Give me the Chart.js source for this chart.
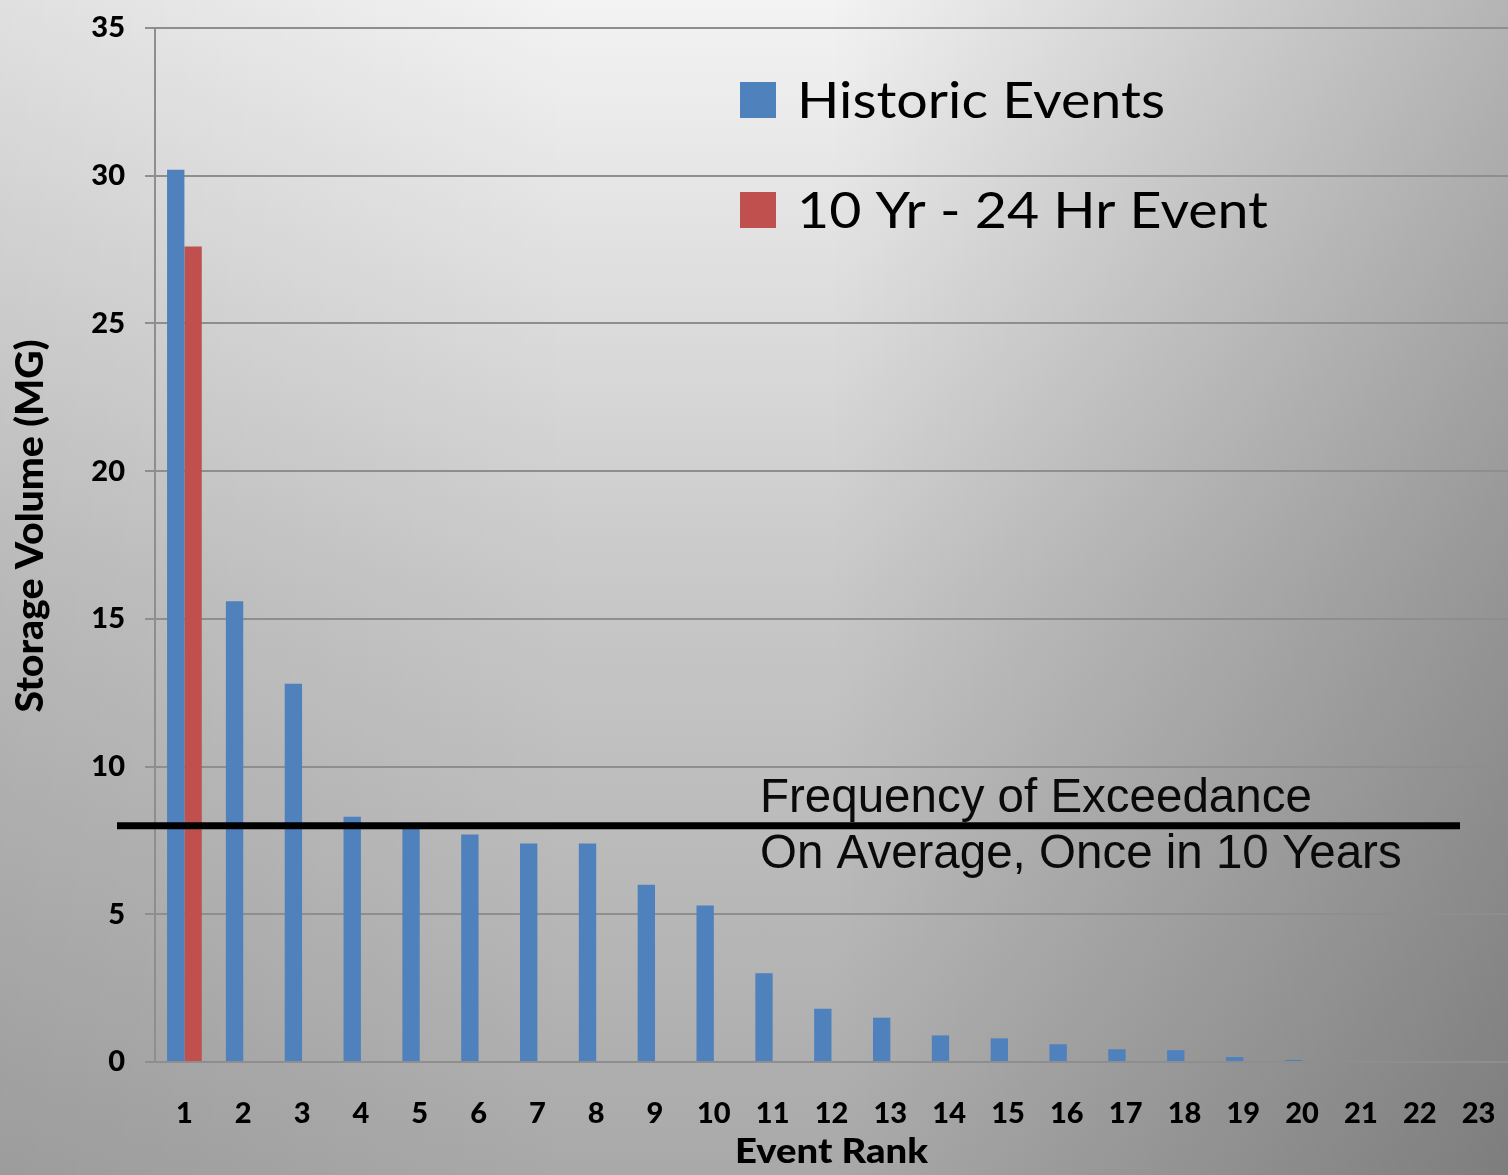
<!DOCTYPE html>
<html>
<head>
<meta charset="utf-8">
<title>Storage Volume by Event Rank</title>
<script src="https://cdn.jsdelivr.net/npm/chart.js@4.4.1/dist/chart.umd.min.js"></script>
<style>
  html, body { margin: 0; padding: 0; }
  body {
    width: 1508px;
    height: 1175px;
    overflow: hidden;
    background:
      linear-gradient(to right, rgba(0,0,0,0.08) 0%, rgba(0,0,0,0) 38%, rgba(0,0,0,0) 55%, rgba(0,0,0,0.26) 100%),
      linear-gradient(to bottom, #f3f3f3 0%, #c8c8c8 50%, #a9a9a9 100%);
  }
  canvas { display: block; }
</style>
</head>
<body>
<canvas id="chart" width="1508" height="1175"></canvas>
<script>
// data
const ranks = ['1', '2', '3', '4', '5', '6', '7', '8', '9', '10', '11', '12',
               '13', '14', '15', '16', '17', '18', '19', '20', '21', '22', '23'];
const historicEvents = [30.2, 15.6, 12.8, 8.3, 7.9, 7.7, 7.4, 7.4, 6.0, 5.3, 3.0, 1.8,
                        1.5, 0.9, 0.8, 0.6, 0.43, 0.4, 0.17, 0.07, 0, 0, 0];
const designEvent = [27.6, null, null, null, null, null, null, null, null, null, null, null,
                     null, null, null, null, null, null, null, null, null, null, null];
const seriesNames = ['Historic Events', '10 Yr - 24 Hr Event'];
const seriesColors = ['#4f81bd', '#c0504d'];
const exceedance = 8;
const exceedanceText = ['Frequency of Exceedance', 'On Average, Once in 10 Years'];

Chart.defaults.font.family = 'Lato';
Chart.defaults.color = '#000';

// draws text squeezed/stretched to a given width
function fitText(ctx, text, x, y, width, font, align) {
    ctx.save();
    ctx.font = font;
    const w = ctx.measureText(text).width;
    ctx.translate(x, y);
    ctx.scale(width / w, 1);
    ctx.textAlign = align || 'left';
    ctx.textBaseline = 'alphabetic';
    ctx.fillText(text, 0, 0);
    ctx.restore();
}

const extras = {
    id: 'extras',
    afterDatasetsDraw(chart) {
        const ctx = chart.ctx;
        const area = chart.chartArea;
        const y = chart.scales.y;

        // exceedance line
        const ly = y.getPixelForValue(exceedance);
        ctx.save();
        ctx.strokeStyle = '#000';
        ctx.lineWidth = 7;
        ctx.beginPath();
        ctx.moveTo(area.left - 38, ly);
        ctx.lineTo(area.right - 48, ly);
        ctx.stroke();

        ctx.fillStyle = '#0a0a0a';
        ctx.font = '47.5px "Liberation Sans", Arial, sans-serif';
        ctx.textAlign = 'left';
        ctx.textBaseline = 'alphabetic';
        ctx.fillText(exceedanceText[0], 760, ly - 14);
        ctx.fillText(exceedanceText[1], 760, ly + 42);

        // legend
        const legendRows = [{top: 82, width: 368}, {top: 192, width: 471}];
        legendRows.forEach((row, i) => {
            ctx.fillStyle = seriesColors[i];
            ctx.fillRect(740, row.top, 36, 36);
            ctx.fillStyle = '#000';
            fitText(ctx, seriesNames[i], 797, row.top + 36, row.width, '50px Lato');
        });

        // axis titles
        ctx.fillStyle = '#000';
        fitText(ctx, 'Event Rank', (area.left + area.right) / 2, 1163, 193, '900 35px Lato', 'center');
        ctx.save();
        ctx.translate(43, 526);
        ctx.rotate(-Math.PI / 2);
        fitText(ctx, 'Storage Volume (MG)', 0, 0, 373, '900 37px Lato', 'center');
        ctx.restore();
        ctx.restore();
    }
};

new Chart(document.getElementById('chart'), {
    type: 'bar',
    data: {
        labels: ranks,
        datasets: [{
            label: seriesNames[0],
            data: historicEvents,
            backgroundColor: seriesColors[0],
            borderWidth: 0
        }, {
            label: seriesNames[1],
            data: designEvent,
            backgroundColor: seriesColors[1],
            borderWidth: 0
        }]
    },
    options: {
        responsive: false,
        animation: false,
        devicePixelRatio: 1,
        categoryPercentage: 0.59,
        barPercentage: 1,
        layout: {
            padding: {top: 28, right: 0, bottom: 0, left: 0}
        },
        scales: {
            x: {
                grid: {display: false, drawTicks: false},
                border: {display: false},
                ticks: {
                    font: {size: 29, weight: '900'},
                    color: '#000',
                    padding: 34,
                    maxRotation: 0,
                    autoSkip: false
                },
                afterFit(scale) {
                    scale.height = 113;
                    scale.paddingLeft = 0;
                    scale.paddingRight = 0;
                }
            },
            y: {
                min: 0,
                max: 35,
                grid: {color: '#8e8e8e', lineWidth: 2, tickLength: 10},
                border: {color: '#8e8e8e', width: 2},
                ticks: {
                    stepSize: 5,
                    font: {size: 29, weight: '900'},
                    color: '#000',
                    padding: 20
                },
                afterFit(scale) {
                    scale.width = 155;
                    scale.paddingTop = 0;
                    scale.paddingBottom = 0;
                }
            }
        },
        plugins: {
            legend: {display: false},
            tooltip: {enabled: false}
        }
    },
    plugins: [extras]
});
</script>
</body>
</html>
